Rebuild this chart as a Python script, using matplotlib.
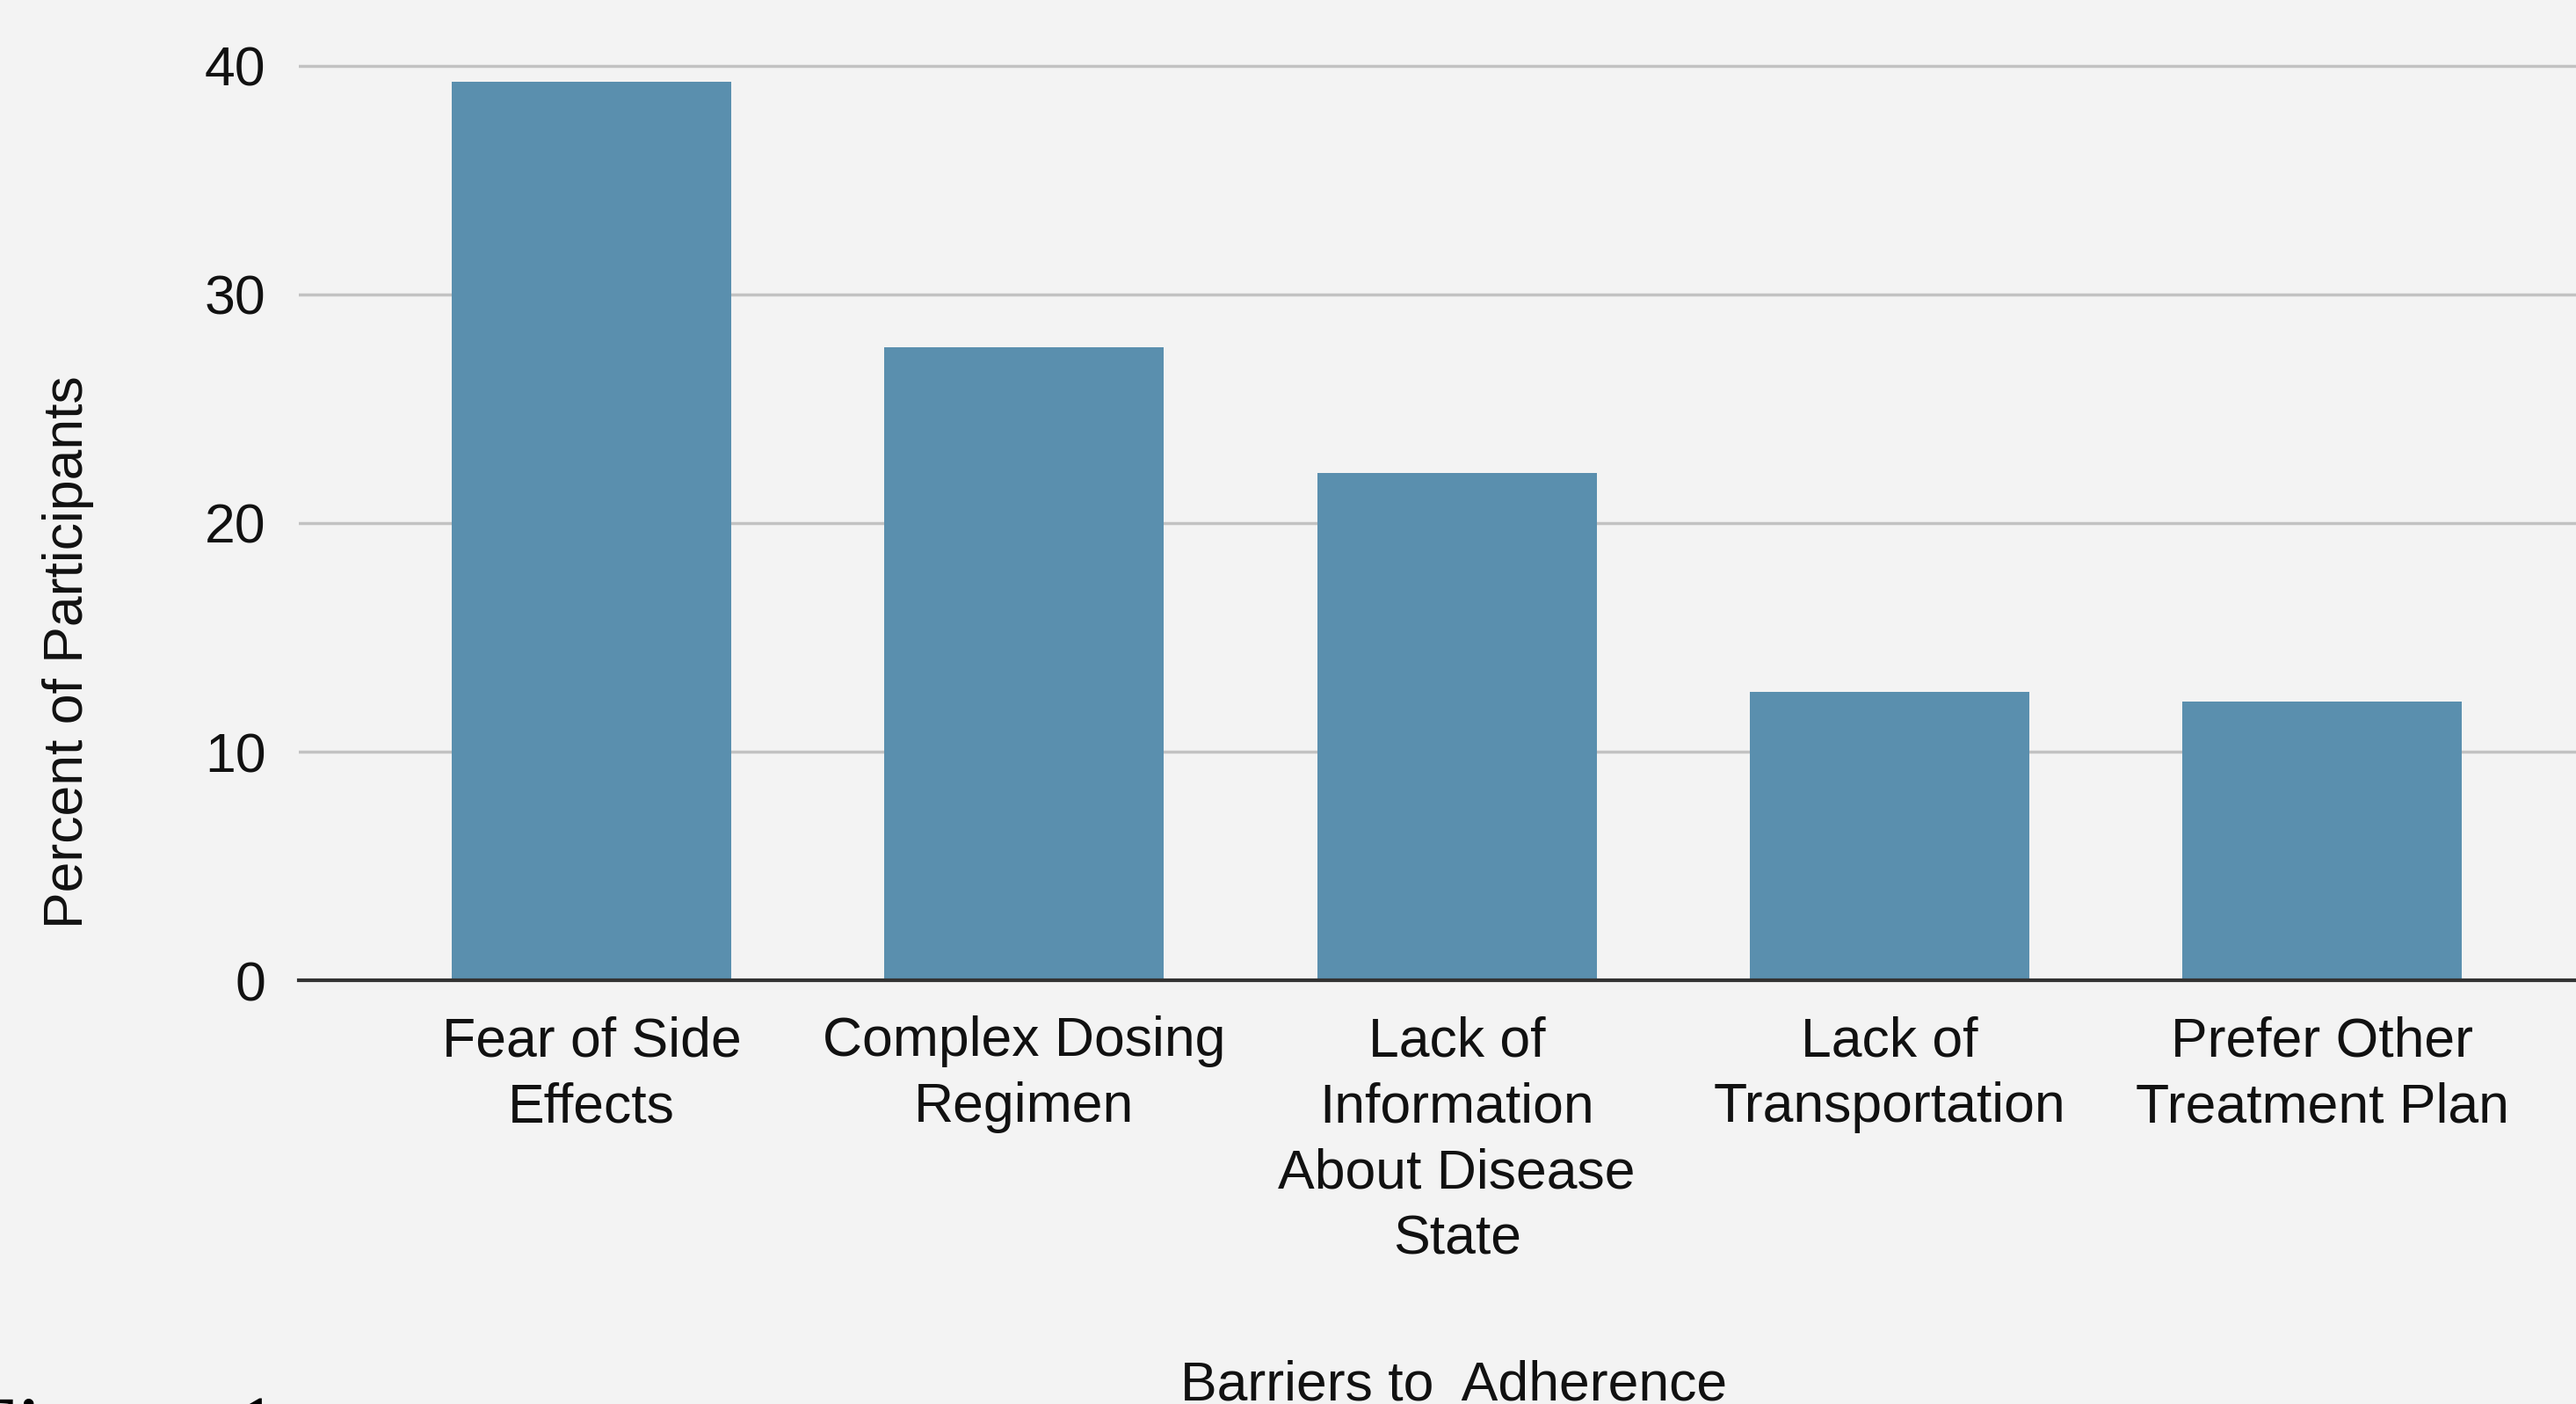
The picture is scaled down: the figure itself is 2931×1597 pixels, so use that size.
import matplotlib
matplotlib.use("Agg")
import matplotlib.pyplot as plt

# barriers
categories = ["Fear of Side\nEffects", "Complex Dosing\nRegimen",
              "Lack of\nInformation\nAbout Disease\nState",
              "Lack of\nTransportation", "Prefer Other\nTreatment Plan"]
percent = [39.3, 27.7, 22.2, 12.6, 12.2]
yticks = [0, 10, 20, 30, 40]

plt.rcParams['font.family'] = ['Liberation Sans', 'DejaVu Sans']

bg = '#f3f3f3'
fig = plt.figure(figsize=(29.31, 15.97), dpi=100, facecolor=bg)
ax = fig.add_axes([0.116, 0.3018, 0.884, 0.6594])
ax.set_facecolor(bg)

x = range(len(categories))
ax.bar(x, percent, width=0.646, color='#5a8fae', zorder=3)

ax.set_xlim(-0.677, 4.587)
ax.set_ylim(0, 40.5)
ax.set_yticks(yticks)
ax.set_xticks(list(x))
ax.set_xticklabels(categories, linespacing=1.35)
ax.tick_params(axis='both', length=0, labelsize=45, colors='#111111')
ax.tick_params(axis='y', pad=27)
ax.tick_params(axis='x', pad=29)

ax.grid(axis='y', color='#c2c2c2', linewidth=2.5, zorder=0)
for s in ['top', 'right', 'left']:
    ax.spines[s].set_visible(False)
ax.spines['bottom'].set_color('#333333')
ax.spines['bottom'].set_linewidth(3)
ax.spines['bottom'].set_zorder(4)

fig.text(78 / 2931, 0.5354, 'Percent of Participants', rotation=90,
         ha='center', va='center', fontsize=45, color='#111111')
fig.text(0.5643, 0.003, 'Barriers to  Adherence', ha='center',
         va='baseline', fontsize=45, color='#111111')
# caption underneath, mostly cut off by the image edge
fig.text(-0.014, -0.0405, 'Figure 1', ha='left', va='baseline',
         fontsize=77, family=['Liberation Serif', 'DejaVu Serif'], color='black')

fig.savefig('out.png', dpi=100, facecolor=bg)
